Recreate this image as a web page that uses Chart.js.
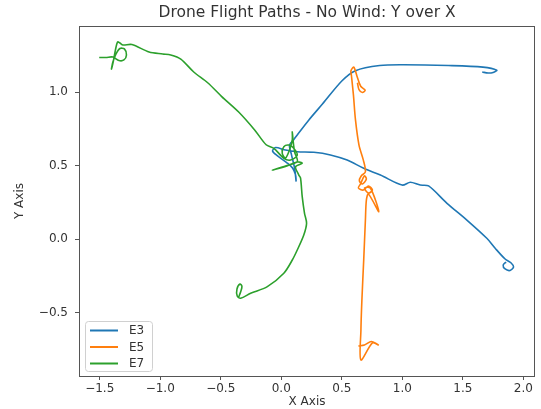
<!DOCTYPE html>
<html>
<head>
<meta charset="utf-8">
<script src="https://cdn.jsdelivr.net/npm/chart.js@4/dist/chart.umd.min.js"></script>
<style>
  html, body { margin: 0; padding: 0; background: #fff; }
  #wrap { width: 541px; height: 409px; }
</style>
</head>
<body>
<div id="wrap"><canvas id="chart" width="541" height="409"></canvas></div>
<script>
const X_TICKS = [-1.5, -1.0, -0.5, 0.0, 0.5, 1.0, 1.5, 2.0];
const Y_TICKS = [-0.5, 0.0, 0.5, 1.0];

// E3 - lower right loop -> centre -> upper right hook
const e3X = [1.857, 1.833, 1.849, 1.890, 1.919, 1.899, 1.849, 1.767, 1.698, 1.533,
  1.369, 1.217, 1.148, 1.066, 0.998, 0.819, 0.681, 0.544, 0.406, 0.269,
  0.132, 0.035, -0.047, -0.072, -0.031, 0.049, 0.093, 0.118, 0.122, 0.110,
  0.085, 0.068, 0.101, 0.132, 0.228, 0.340, 0.500, 0.613, 0.813, 1.012,
  1.382, 1.666, 1.780, 1.750, 1.709, 1.660];
const e3Y = [-0.155, -0.175, -0.202, -0.212, -0.188, -0.161, -0.134, -0.061, 0.007, 0.131,
  0.245, 0.363, 0.369, 0.388, 0.369, 0.437, 0.483, 0.539, 0.574, 0.592,
  0.596, 0.607, 0.624, 0.601, 0.567, 0.519, 0.485, 0.438, 0.397, 0.485,
  0.573, 0.641, 0.676, 0.710, 0.812, 0.920, 1.077, 1.147, 1.182, 1.187,
  1.182, 1.171, 1.150, 1.135, 1.131, 1.138];

// E5 - top loop -> down through cluster (with spur) -> bottom triangle
const e5X = [0.629, 0.642, 0.670, 0.693, 0.656, 0.629, 0.599, 0.575, 0.580, 0.596,
  0.613, 0.642, 0.678, 0.695, 0.660, 0.645, 0.670, 0.703, 0.687, 0.654,
  0.637, 0.678, 0.720, 0.753, 0.720, 0.687, 0.736, 0.805, 0.720, 0.703,
  0.695, 0.681, 0.666, 0.658, 0.658, 0.753, 0.802, 0.744, 0.687, 0.637];
const e5Y = [1.065, 1.018, 0.999, 1.014, 1.041, 1.100, 1.171, 1.145, 1.111, 0.982,
  0.812, 0.641, 0.539, 0.458, 0.431, 0.397, 0.376, 0.410, 0.431, 0.376,
  0.349, 0.335, 0.363, 0.335, 0.315, 0.349, 0.349, 0.188, 0.308, 0.267,
  0.131, -0.141, -0.413, -0.617, -0.821, -0.705, -0.719, -0.695, -0.719, -0.726];

// E7 - top left knot -> centre tangle -> bottom hook
const e7X = [-1.504, -1.449, -1.391, -1.341, -1.300, -1.279, -1.296, -1.333, -1.366, -1.391,
  -1.403, -1.387, -1.370, -1.352, -1.333, -1.308, -1.234, -1.092, -0.979, -0.913,
  -0.830, -0.723, -0.608, -0.492, -0.352, -0.220, -0.125, -0.061, 0.021, 0.077,
  0.132, 0.101, 0.063, 0.021, 0.008, 0.035, 0.068, 0.091, 0.091, 0.097,
  0.110, 0.132, 0.035, -0.074, 0.035, 0.132, 0.173, 0.118, 0.145, 0.159,
  0.173, 0.192, 0.209, 0.186, 0.132, 0.091, 0.021, -0.115, -0.253, -0.336,
  -0.364, -0.366, -0.341, -0.325, -0.336, -0.352];
const e7Y = [1.237, 1.237, 1.240, 1.216, 1.220, 1.254, 1.295, 1.298, 1.260, 1.206,
  1.158, 1.213, 1.288, 1.342, 1.335, 1.322, 1.325, 1.274, 1.261, 1.254,
  1.226, 1.138, 1.065, 0.971, 0.866, 0.744, 0.643, 0.619, 0.551, 0.539,
  0.573, 0.621, 0.641, 0.630, 0.585, 0.553, 0.607, 0.676, 0.732, 0.676,
  0.594, 0.528, 0.499, 0.471, 0.495, 0.526, 0.517, 0.494, 0.437, 0.417,
  0.290, 0.177, 0.109, 0.029, -0.073, -0.141, -0.231, -0.322, -0.367, -0.401,
  -0.386, -0.338, -0.304, -0.321, -0.359, -0.393];

const SERIES = [
  { label: "E3", xs: e3X, ys: e3Y, color: "#1f77b4", order: 2 },
  { label: "E5", xs: e5X, ys: e5Y, color: "#ff7f0e", order: 1 },
  { label: "E7", xs: e7X, ys: e7Y, color: "#2ca02c", order: 0 },
];

const TEXT = "#333";
const SPINE = "#555";
const FONT = "DejaVu Sans";

const fmt = (v) => v.toFixed(1).replace("-", "\u2212");

/* frame on all four sides + legend in the lower left */
const framePlugin = {
  id: "frame",
  afterDraw(chart) {
    const { ctx, chartArea: a } = chart;
    ctx.save();
    ctx.strokeStyle = SPINE;
    ctx.lineWidth = 1;
    ctx.strokeRect(a.left + 0.5, a.top + 0.5, a.right - a.left - 1, a.bottom - a.top);

    // legend box
    const bx = a.left + 6, by = a.bottom - 55, bw = 67, bh = 50;
    ctx.fillStyle = "rgba(255,255,255,0.85)";
    ctx.strokeStyle = "#d0d0d0";
    ctx.beginPath();
    ctx.roundRect(bx + 0.5, by + 0.5, bw, bh, 3);
    ctx.fill();
    ctx.stroke();
    ctx.font = "12px " + FONT;
    ctx.textBaseline = "middle";
    chart.data.datasets.forEach((ds, i) => {
      const y = by + 9.5 + i * 16.5;
      ctx.strokeStyle = ds.borderColor;
      ctx.lineWidth = 2;
      ctx.beginPath();
      ctx.moveTo(bx + 5, y);
      ctx.lineTo(bx + 33, y);
      ctx.stroke();
      ctx.fillStyle = TEXT;
      ctx.fillText(ds.label, bx + 44, y + 0.5);
    });
    ctx.restore();
  },
};

new Chart(document.getElementById("chart"), {
  type: "scatter",
  data: {
    datasets: SERIES.map((s) => ({
      label: s.label,
      data: s.xs.map((x, i) => ({ x: x, y: s.ys[i] })),
      showLine: true,
      borderColor: s.color,
      backgroundColor: s.color,
      borderWidth: 1.6,
      pointRadius: 0,
      tension: 0.3,
      order: s.order,
    })),
  },
  options: {
    responsive: false,
    animation: false,
    events: [],
    layout: { padding: { left: 0, right: 6, top: 0, bottom: 0 } },
    plugins: {
      legend: { display: false },
      tooltip: { enabled: false },
      title: {
        display: true,
        fullSize: false,
        text: "Drone Flight Paths - No Wind: Y over X",
        color: TEXT,
        font: { family: FONT, size: 15.5, weight: "normal" },
        padding: { top: 4, bottom: 3.4 },
      },
    },
    scales: {
      x: {
        type: "linear",
        min: -1.671,
        max: 2.096,
        afterBuildTicks: (s) => { s.ticks = X_TICKS.map((v) => ({ value: v })); },
        afterFit: (s) => { s.height = 33; },
        ticks: { color: TEXT, font: { family: FONT, size: 12 }, padding: 2, callback: (v) => fmt(v), maxRotation: 0 },
        grid: { display: true, drawOnChartArea: false, drawTicks: true, tickLength: 4, color: SPINE },
        border: { display: false },
        title: { display: true, text: "X Axis", color: TEXT, font: { family: FONT, size: 12 }, padding: { top: 0, bottom: 0 } },
      },
      y: {
        type: "linear",
        min: -0.93,
        max: 1.451,
        afterBuildTicks: (s) => { s.ticks = Y_TICKS.map((v) => ({ value: v })); },
        afterFit: (s) => { s.width = 79; },
        ticks: { color: TEXT, font: { family: FONT, size: 12 }, padding: 7, callback: (v) => fmt(v) },
        grid: { display: true, drawOnChartArea: false, drawTicks: true, tickLength: 4, color: SPINE },
        border: { display: false },
        title: { display: true, text: "Y Axis", color: TEXT, font: { family: FONT, size: 12 }, padding: { top: 13, bottom: 0 } },
      },
    },
  },
  plugins: [framePlugin],
});
</script>
</body>
</html>
